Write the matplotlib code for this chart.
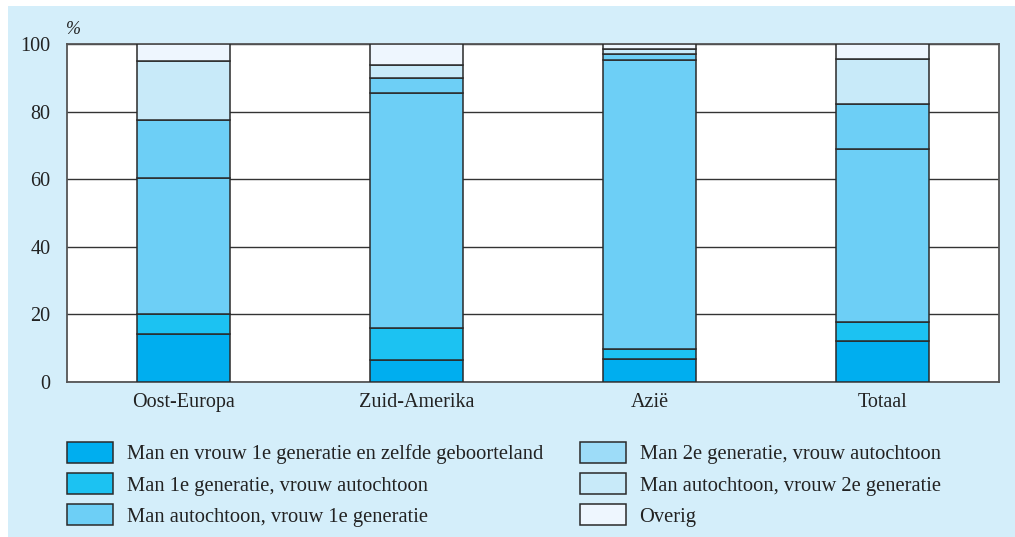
import matplotlib
matplotlib.use("Agg")
import matplotlib.pyplot as plt
from matplotlib.patches import Patch, Rectangle
import numpy as np

categories = ["Oost-Europa", "Zuid-Amerika", "Azië", "Totaal"]
series_labels = [
    "Man en vrouw 1e generatie en zelfde geboorteland",
    "Man 1e generatie, vrouw autochtoon",
    "Man autochtoon, vrouw 1e generatie",
    "Man 2e generatie, vrouw autochtoon",
    "Man autochtoon, vrouw 2e generatie",
    "Overig",
]
man_vrouw_1e_zelfde = [14.1, 6.4, 6.8, 12.1]
man_1e_vrouw_autoch = [5.9, 9.7, 3.0, 5.7]
man_autoch_vrouw_1e = [40.3, 69.5, 85.5, 51.1]
man_2e_vrouw_autoch = [17.1, 4.2, 1.7, 13.3]
man_autoch_vrouw_2e = [17.5, 4.1, 1.6, 13.3]
overig = [5.1, 6.1, 1.4, 4.5]
yticks = [0, 20, 40, 60, 80, 100]

series = [man_vrouw_1e_zelfde, man_1e_vrouw_autoch, man_autoch_vrouw_1e,
          man_2e_vrouw_autoch, man_autoch_vrouw_2e, overig]
bar_colors = ["#00aeef", "#1cc2f2", "#6dcff6", "#6dcff6", "#c8eaf9", "#eef6fe"]
legend_colors = ["#00aeef", "#1cc2f2", "#6dcff6", "#9ddcf8", "#c8eaf9", "#eef6fe"]

plt.rcParams['font.family'] = ['Liberation Serif', 'DejaVu Serif']

fig = plt.figure(figsize=(10.15, 5.37), dpi=100, facecolor="white")
fig.add_artist(Rectangle((8 / 1015, 0.0), 1.0, 1 - 6 / 537, transform=fig.transFigure,
                         facecolor="#d4eefa", edgecolor="none", zorder=-10))

ax = fig.add_axes([67 / 1015, 1 - 382 / 537, (999 - 67) / 1015, (382 - 44) / 537])
ax.set_facecolor("white")

x = np.arange(len(categories))
bottom = np.zeros(len(categories))
for vals, col in zip(series, bar_colors):
    ax.bar(x, vals, bottom=bottom, width=0.4, color=col, edgecolor="#2a2a2a",
           linewidth=1.1, zorder=3)
    bottom += np.array(vals)

ax.set_xlim(-0.5, 3.5)
ax.set_ylim(0, 100)
ax.set_yticks(yticks)
ax.set_yticklabels([str(t) for t in yticks])
ax.set_xticks(x)
ax.set_xticklabels(categories)
ax.tick_params(axis="both", length=0, labelsize=14.5, colors="#222222")
ax.tick_params(axis="y", pad=12)
ax.tick_params(axis="x", pad=8)
ax.yaxis.grid(True, color="#333333", linewidth=1.0, zorder=0)
ax.set_axisbelow(True)
for s in ax.spines.values():
    s.set_color("#555555")
    s.set_linewidth(1.3)

fig.text(66 / 1015, 1 - 30 / 537, "%", fontsize=13, color="#222222",
         ha="left", va="center", style="italic")

handles = [Patch(facecolor=c, edgecolor="#2a2a2a", linewidth=1.1) for c in legend_colors]
common = dict(frameon=False, fontsize=14.8, handlelength=2.25, handleheight=1.2,
              handletextpad=0.65, labelspacing=0.42, borderpad=0, borderaxespad=0,
              labelcolor="#222222")
fig.legend(handles[:3], series_labels[:3], loc="upper left",
           bbox_to_anchor=(67 / 1015, 1 - 442 / 537), **common)
fig.legend(handles[3:], series_labels[3:], loc="upper left",
           bbox_to_anchor=(580 / 1015, 1 - 442 / 537), **common)

fig.savefig("out.png", dpi=100, facecolor=fig.get_facecolor())
